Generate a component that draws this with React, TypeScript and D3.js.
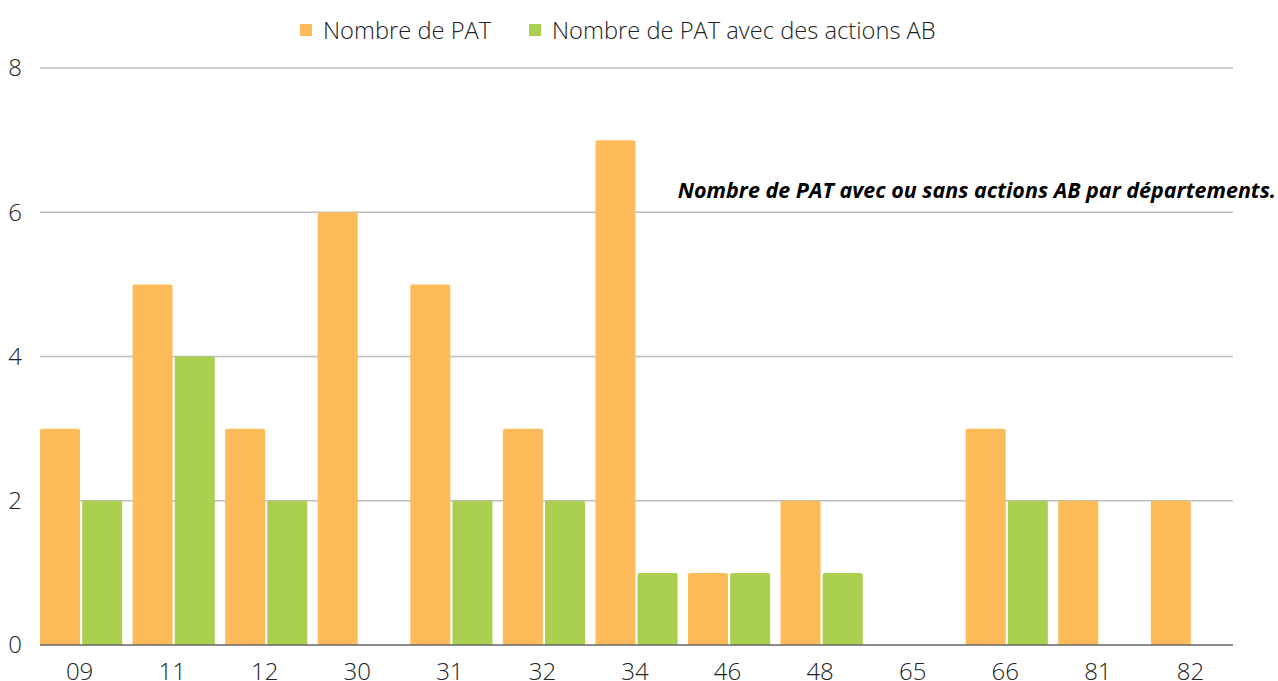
import React from "react";
import * as d3 from "d3";

const categories = ["09", "11", "12", "30", "31", "32", "34", "46", "48", "65", "66", "81", "82"];
const patTotal = [3, 5, 3, 6, 5, 3, 7, 1, 2, 0, 3, 2, 2];
const patAB = [2, 4, 2, 0, 2, 2, 1, 1, 1, 0, 2, 0, 0];
const seriesNames = ["Nombre de PAT", "Nombre de PAT avec des actions AB"];
const seriesColors = ["#FDBB59", "#ABD050"];
const yTicks = [0, 2, 4, 6, 8];
const title = "Nombre de PAT avec ou sans actions AB par départements.";

const W = 1278;
const H = 681;
const left = 40;
const right = 1233;
const top = 68;
const bottom = 645;

function topRoundedRect(x: number, y: number, w: number, h: number, r: number) {
  if (h <= 0) return "";
  const rr = Math.min(r, h, w / 2);
  return `M${x},${y + h}V${y + rr}Q${x},${y} ${x + rr},${y}H${x + w - rr}Q${x + w},${y} ${x + w},${y + rr}V${y + h}Z`;
}

export default function App() {
  const x = d3.scaleBand<string>().domain(categories).range([left, right]).paddingInner(0.112).paddingOuter(0);
  const y = d3.scaleLinear().domain([0, 8]).range([bottom, top]);
  const bw = x.bandwidth();
  const inner = d3.scaleBand<number>().domain([0, 1]).range([0, bw]).paddingInner(0.05);
  const series = [patTotal, patAB];
  const font = "'Open Sans', sans-serif";

  return (
    <svg width={W} height={H} style={{ position: "absolute", left: 0, top: 0, background: "#fff" }}>
      {/* legend */}
      <g fontFamily={font} fontSize={23.7} fontWeight={300} fill="#222">
        <rect x={300} y={24} width={12} height={12} fill={seriesColors[0]} />
        <text x={323} y={38.5}>{seriesNames[0]}</text>
        <rect x={529} y={24} width={12} height={12} fill={seriesColors[1]} />
        <text x={552} y={38.5}>{seriesNames[1]}</text>
      </g>
      {/* grid */}
      {yTicks.filter((t) => t !== 0).map((t) => (
        <line key={t} x1={left} x2={right} y1={y(t)} y2={y(t)} stroke="#BDBDBD" strokeWidth={1.3} />
      ))}
      {/* y labels */}
      <g fontFamily={font} fontSize={24} fontWeight={300} fill="#222">
        {yTicks.map((t) => (
          <text key={t} x={15} y={y(t)} dy="0.35em" textAnchor="middle">{t}</text>
        ))}
      </g>
      {/* bars */}
      {categories.map((c, i) => (
        <g key={c}>
          {series.map((s, j) =>
            s[i] > 0 ? (
              <path
                key={j}
                d={topRoundedRect(x(c)! + inner(j)!, y(s[i]), inner.bandwidth(), y(0) - y(s[i]), 2)}
                fill={seriesColors[j]}
              />
            ) : null
          )}
        </g>
      ))}
      {/* baseline */}
      <line x1={left} x2={right} y1={y(0)} y2={y(0)} stroke="#666" strokeWidth={1.3} />
      {/* x labels */}
      <g fontFamily={font} fontSize={24} fontWeight={300} fill="#222">
        {categories.map((c) => (
          <text key={c} x={x(c)! + bw / 2 - 1.5} y={680} textAnchor="middle">{c}</text>
        ))}
      </g>
      {/* title */}
      <text x={1276} y={198} textAnchor="end" fontFamily={font} fontSize={21.5} fontWeight={700} fontStyle="italic" fill="#000">
        {title}
      </text>
    </svg>
  );
}
